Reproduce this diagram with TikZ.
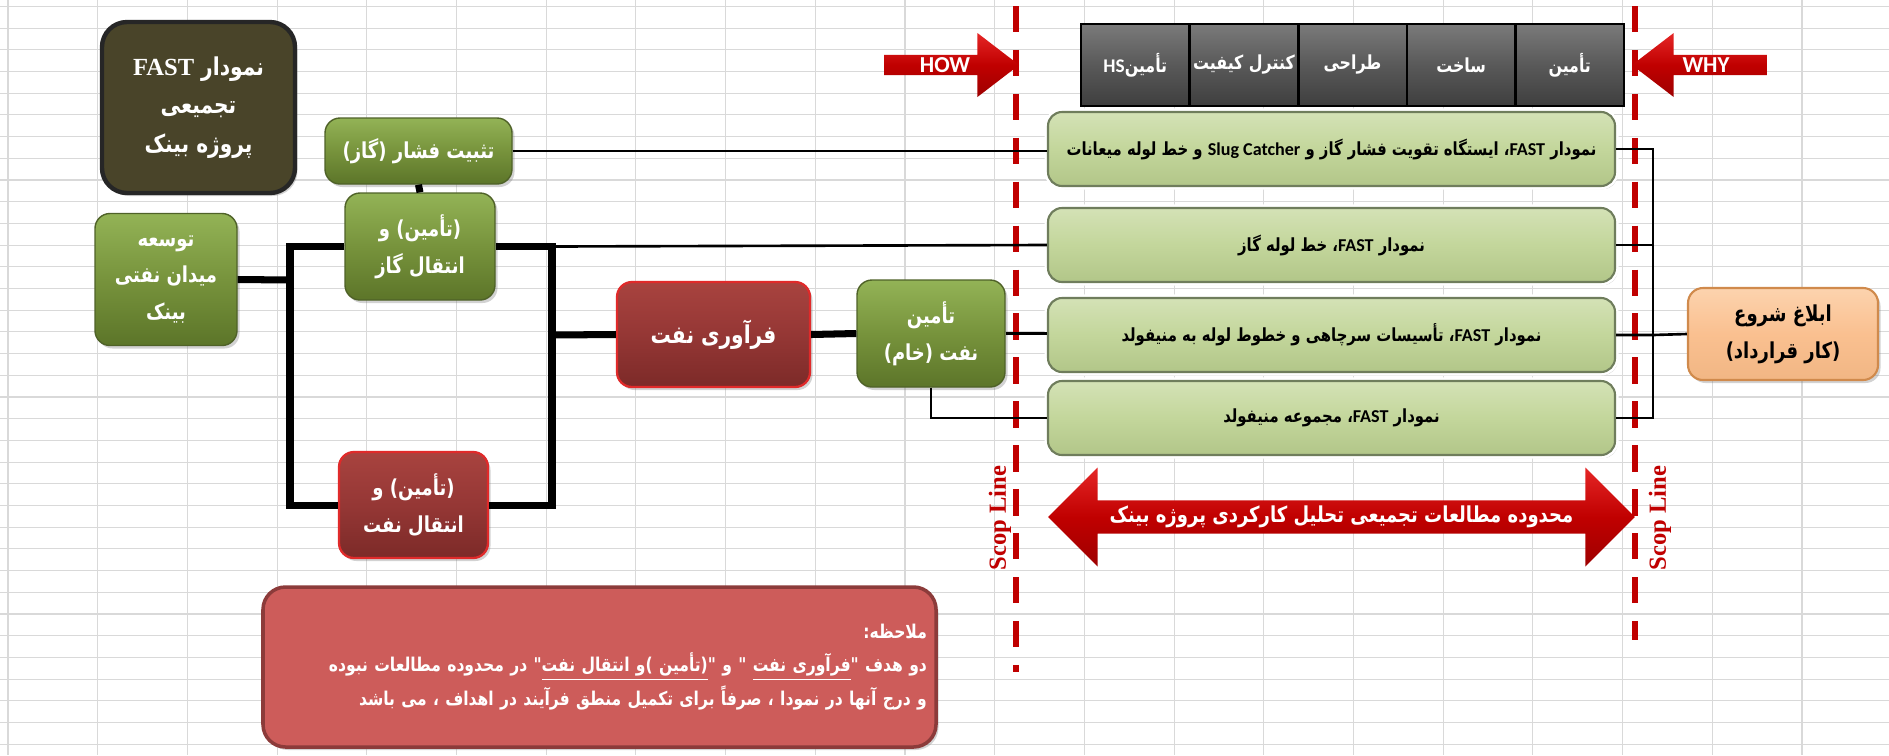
\documentclass[tikz,border=0pt]{standalone}
\usepackage{fontspec}
\setmainfont{DejaVu Sans}
\newfontfamily\fa[Script=Arabic, FakeStretch=0.82]{DejaVu Sans}
\newfontfamily\lat{Carlito}
\newfontfamily\latser{Liberation Serif}
\usetikzlibrary{shapes.arrows,shadows}
\TeXXeTstate=1

\newcommand\fatx[1]{\beginR#1\endR}
\newcommand\entx[1]{\beginL{\lat#1}\endL}

\definecolor{gridc}{HTML}{D9D9D9}
\definecolor{olivebox}{HTML}{77933C}
\definecolor{olivetop}{HTML}{93B356}
\definecolor{olivebot}{HTML}{5C7529}
\definecolor{oliveline}{HTML}{4F6228}
\definecolor{lgreen}{HTML}{C3D69B}
\definecolor{lgreentop}{HTML}{D4E2B6}
\definecolor{lgreenbot}{HTML}{B2C689}
\definecolor{lgreenline}{HTML}{6F7D5C}
\definecolor{redbox}{HTML}{953735}
\definecolor{redtop}{HTML}{A8433F}
\definecolor{redbot}{HTML}{7C2A28}
\definecolor{redline}{HTML}{E02A2A}
\definecolor{darkolive}{HTML}{494429}
\definecolor{peach}{HTML}{FAC090}
\definecolor{peachtop}{HTML}{FCD3AE}
\definecolor{peachline}{HTML}{D08A4C}
\definecolor{btngray}{HTML}{595959}
\definecolor{scopered}{HTML}{C00000}
\definecolor{arrowtop}{HTML}{E52626}
\definecolor{arrowbot}{HTML}{9E0000}
\definecolor{notered}{HTML}{CD5C5A}
\definecolor{noteline}{HTML}{8C3B3A}

\tikzset{
  sz/.style 2 args={minimum width=#1*0.02cm, minimum height=#2*0.02cm},
  gridline/.style={draw=gridc, line width=0.6pt},
  boxshadow/.style={drop shadow={opacity=.35, shadow xshift=.05cm, shadow yshift=-.06cm}},
  goal/.style={boxshadow, rounded corners=.3cm, draw=oliveline, line width=.8pt,
    top color=olivetop, bottom color=olivebot, middle color=olivebox,
    text=white, align=center, inner sep=0pt, font=\fa\bfseries\fontsize{12.5}{21}\selectfont},
  outgoal/.style={goal, draw=redline, line width=1.3pt, top color=redtop, bottom color=redbot, middle color=redbox},
  fastbox/.style={boxshadow, rounded corners=.28cm, draw=lgreenline, line width=1.2pt,
    preaction={draw=white, line width=4pt}, top color=lgreentop, bottom color=lgreenbot, middle color=lgreen,
    inner sep=0pt, font=\fa\bfseries\fontsize{10.3}{13}\selectfont, sz={567}{74}},
  btn/.style={draw=black, line width=1.5pt, top color=btngray!80!white, bottom color=btngray!70!black, middle color=btngray,
    text=white, inner sep=0pt, font=\fa\bfseries\fontsize{11}{13}\selectfont, sz={108.6}{82}},
  howarrow/.style={single arrow, single arrow head extend=.34cm, single arrow tip angle=75,
    minimum width=1.28cm, minimum height=2.7cm, inner sep=0pt,
    top color=arrowtop, bottom color=arrowbot, middle color=scopered,
    text=white, font=\lat\bfseries\fontsize{13}{13}\selectfont},
  scopeline/.style={draw=scopered, line width=3pt, dash pattern=on 15pt off 10pt},
  scoplbl/.style={rotate=90, text=scopered, inner sep=0pt, font=\latser\bfseries\fontsize{14}{14}\selectfont},
  link/.style={draw=black, line width=1.5pt},
  bus/.style={draw=black, line width=4pt},
}

\begin{document}
\begin{tikzpicture}[x=0.02cm, y=-0.02cm]
    \useasboundingbox (0,0) rectangle (1889,755);
    \fill[white] (0,0) rectangle (1889,755);
    % spreadsheet grid
    \foreach \k in {0,...,21}
        \draw[gridline] ({8+89.7*\k},0) -- ({8+89.7*\k},755);
    \foreach \k in {0,...,34}
        \draw[gridline] (0,{6.4+21.7*\k}) -- (1889,{6.4+21.7*\k});

    % scope lines
    \draw[scopeline] (1016,6) -- (1016,672);
    \draw[scopeline] (1635,6) -- (1635,640);
    \node[scoplbl] (scopL) at (1000,518) {Scop Line};
    \node[scoplbl] (scopR) at (1660,518) {Scop Line};

    % title
    \node[boxshadow, rounded corners=.5cm, draw=black!85, line width=2.5pt, fill=darkolive, sz={193}{171},
          text=white, align=center, inner sep=0pt, font=\fa\bfseries\fontsize{14}{22}\selectfont]
        (title) at (198.5,107.5) {\fatx{نمودار \beginL{\latser FAST}\endL}\\ \fatx{تجمیعی}\\ \fatx{پروژه بینک}};

    % goals
    \node[goal, sz={187}{66}] (tasbit) at (418.5,151) {\fatx{تثبیت فشار (گاز)}};
    \node[goal, sz={150}{107}] (gas) at (420,246.5) {\fatx{(تأمین) و}\\ \fatx{انتقال گاز}};
    \node[goal, sz={142}{132}] (dev) at (166,279.5) {\fatx{توسعه}\\ \fatx{میدان نفتی}\\ \fatx{بینک}};
    \node[outgoal, sz={149}{106}] (oilT) at (413.5,505) {\fatx{(تأمین) و}\\ \fatx{انتقال نفت}};
    \node[outgoal, sz={193}{105}, font=\fa\bfseries\fontsize{14}{21}\selectfont] (proc) at (713.5,334.5) {\fatx{فرآوری نفت}};
    \node[goal, sz={148}{107}] (crude) at (931,333.5) {\fatx{تأمین}\\ \fatx{نفت (خام)}};

    % FAST diagrams
    \node[fastbox] (fb1) at (1331.5,149) {\fatx{نمودار \entx{FAST}، ایستگاه تقویت فشار گاز و \entx{Slug Catcher} و خط لوله میعانات}};
    \node[fastbox] (fb2) at (1331.5,245) {\fatx{نمودار \entx{FAST}، خط لوله گاز}};
    \node[fastbox] (fb3) at (1331.5,335) {\fatx{نمودار \entx{FAST}، تأسیسات سرچاهی و خطوط لوله به منیفولد}};
    \node[fastbox] (fb4) at (1331.5,418) {\fatx{نمودار \entx{FAST}، مجموعه منیفولد}};

    \node[boxshadow, rounded corners=.3cm, draw=peachline, line width=1.2pt, top color=peachtop, bottom color=peach!85!brown,
          middle color=peach, sz={190}{92}, align=center, inner sep=0pt, font=\fa\bfseries\fontsize{12.5}{21}\selectfont]
        (notify) at (1783,334) {\fatx{ابلاغ شروع}\\ \fatx{(کار قرارداد)}};

    % header buttons
    \foreach \i/\lbl in {0/{تأمین\entx{HS}}, 1/{کنترل کیفیت}, 2/{طراحی}, 3/{ساخت}, 4/{تأمین}}
        \node[btn] (btn\i) at ({1135.3+108.6*\i},65) {\fatx{\lbl}};

    \node[howarrow] (how) at (945,65) {HOW};
    \node[howarrow, shape border rotate=180] (why) at (1706,65) {WHY};

    \node[double arrow, double arrow head extend=.45cm, double arrow tip angle=90,
          minimum width=1.98cm, minimum height=11.74cm, inner sep=0pt,
          top color=arrowtop, bottom color=arrowbot, middle color=scopered,
          text=white, font=\fa\bfseries\fontsize{12.5}{13}\selectfont]
        (scope) at (1341.5,517) {\fatx{محدوده مطالعات تجمیعی تحلیل کارکردی پروژه بینک}};

    % remark
    \node[boxshadow, rounded corners=.45cm, draw=noteline, line width=2pt, fill=notered, sz={673}{160},
          text width=13.1cm, align=right, inner sep=0pt, text=white, font=\fa\bfseries\fontsize{10.8}{19}\selectfont]
        (remark) at (599.5,667) {\fatx{ملاحظه:}\\
        \fatx{دو هدف "\underline{\fatx{فرآوری نفت}} " و "\underline{\fatx{(تأمین )و انتقال نفت}}" در محدوده مطالعات نبوده}\\
        \fatx{و درج آنها در نمودا ، صرفاً برای تکمیل منطق فرآیند در اهداف ، می باشد}};

    % connectors
    \coordinate (lbus) at (290,280);
    \coordinate (rbus) at (552,335);
    \coordinate (wbus) at (1653,335);
    \draw[bus] (tasbit.south) -- (gas.north);
    \draw[bus] (dev.east) -- (lbus);
    \draw[bus] (gas.west) -| (lbus);
    \draw[bus] (oilT.west) -| (lbus);
    \draw[bus] (gas.east) -| (rbus);
    \draw[bus] (oilT.east) -| (rbus);
    \draw[bus] (rbus) -- (proc.west);
    \draw[bus] (proc.east) -- (crude.west);
    \draw[link] (tasbit.east) -- (tasbit.east -| fb1.west);
    \draw[link] (rbus |- gas.east) -- (fb2.west);
    \draw[link] (crude.east) -- (crude.east -| fb3.west);
    \draw[link] (crude.south) |- (fb4.west);
    \draw[link] (fb1.east) -| (wbus);
    \draw[link] (fb4.east) -| (wbus);
    \draw[link] (fb2.east) -- (fb2.east -| wbus);
    \draw[link] (fb3.east) -- (wbus) -- (notify.west);
\end{tikzpicture}
\end{document}
